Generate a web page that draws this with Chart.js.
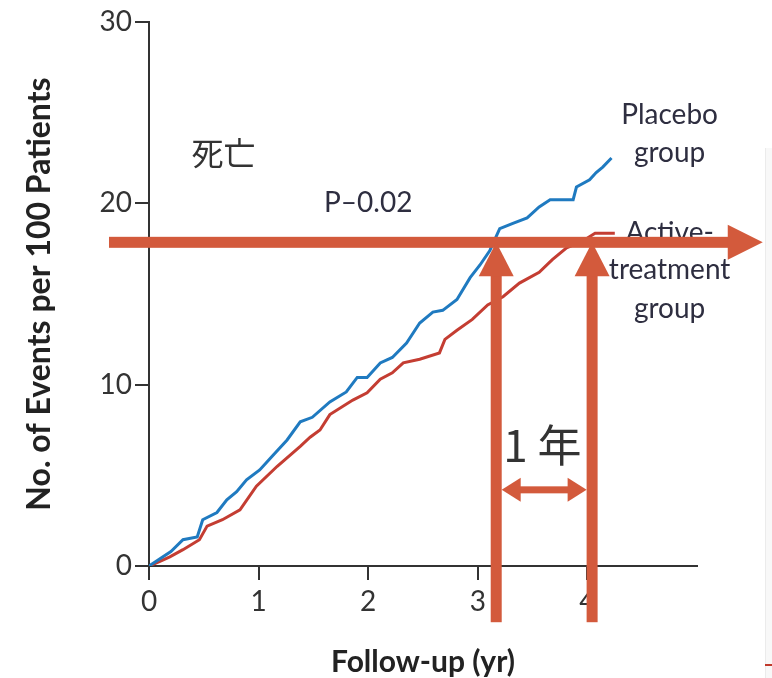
<!DOCTYPE html>
<html>
<head>
<meta charset="utf-8">
<title>Follow-up events</title>
<script src="https://cdn.jsdelivr.net/npm/chart.js"></script>
<style>
    html, body { margin: 0; padding: 0; background: #ffffff; }
    #eventsChart { display: block; }
</style>
</head>
<body>
<canvas id="eventsChart" width="772" height="678"></canvas>
<script>
(function () {
    "use strict";

    // -----------------------------------------------------------
    //  Data
    // -----------------------------------------------------------
    var placeboYears  = [0, 0.1, 0.2, 0.31, 0.44, 0.49, 0.62, 0.71, 0.8, 0.89, 1.01, 1.13, 1.26, 1.38, 1.49, 1.65, 1.8, 1.9, 1.99, 2.11, 2.22, 2.35, 2.47, 2.59, 2.68, 2.81, 2.93, 3.02, 3.11, 3.2, 3.32, 3.45, 3.56, 3.66, 3.87, 3.9, 4.02, 4.08, 4.14, 4.22];
    var placeboEvents = [0, 0.4, 0.8, 1.45, 1.6, 2.55, 2.95, 3.65, 4.1, 4.75, 5.3, 6.1, 6.95, 7.95, 8.2, 9.05, 9.6, 10.4, 10.4, 11.2, 11.5, 12.3, 13.4, 14.0, 14.1, 14.7, 15.9, 16.6, 17.4, 18.6, 18.9, 19.2, 19.8, 20.2, 20.2, 20.9, 21.3, 21.7, 22.0, 22.5];

    var activeYears  = [0, 0.1, 0.19, 0.31, 0.46, 0.53, 0.67, 0.83, 0.98, 1.17, 1.38, 1.47, 1.56, 1.65, 1.86, 1.99, 2.11, 2.22, 2.32, 2.47, 2.65, 2.7, 2.81, 2.95, 3.09, 3.23, 3.38, 3.56, 3.68, 3.81, 3.95, 4.07, 4.25];
    var activeEvents = [0, 0.25, 0.5, 0.9, 1.45, 2.2, 2.55, 3.1, 4.4, 5.5, 6.6, 7.1, 7.5, 8.35, 9.15, 9.55, 10.3, 10.65, 11.2, 11.4, 11.75, 12.5, 13.0, 13.6, 14.4, 14.85, 15.6, 16.2, 16.9, 17.55, 17.9, 18.35, 18.35];

    var xTicks = [0, 1, 2, 3, 4];
    var yTicks = [0, 10, 20, 30];

    var LATIN = 'Lato, "Open Sans", sans-serif';
    var CJK = '"Noto Sans CJK JP", "Noto Sans CJK SC", sans-serif';
    var ARROW = "#d35a3c";
    var INK = "#333333";

    // -----------------------------------------------------------
    //  Overlay: labels and the hand-drawn arrows
    // -----------------------------------------------------------
    var labels = [
        { text: "死亡", x: 0.68, y: 22.8, font: "32px " + CJK, color: INK, base: "middle" },
        { text: "P–0.02", x: 2.0, y: 19.5, font: "28px " + LATIN, color: "#2e2e40", base: "alphabetic" },
        { text: "Placebo", x: 4.75, y: 24.4, font: "28px " + LATIN, color: "#2e2e40", base: "alphabetic" },
        { text: "group", x: 4.75, y: 22.3, font: "28px " + LATIN, color: "#2e2e40", base: "alphabetic" },
        { text: "Active-", x: 4.75, y: 17.87, font: "28px " + LATIN, color: "#2e2e40", base: "alphabetic" },
        { text: "treatment", x: 4.75, y: 15.8, font: "28px " + LATIN, color: "#2e2e40", base: "alphabetic" },
        { text: "group", x: 4.75, y: 13.7, font: "28px " + LATIN, color: "#2e2e40", base: "alphabetic" },
        { text: "1 年", x: 3.59, y: 6.64, font: "44px " + CJK, color: INK, base: "middle" }
    ];

    var ARROW_LEVEL = 17.85;

    function drawArrow(ctx, x1, y1, x2, y2, width, headLen, headWidth, twoHeads) {
        var ang = Math.atan2(y2 - y1, x2 - x1);
        var len = Math.sqrt((x2 - x1) * (x2 - x1) + (y2 - y1) * (y2 - y1));
        ctx.save();
        ctx.translate(x1, y1);
        ctx.rotate(ang);
        ctx.fillStyle = ARROW;
        var start = twoHeads ? headLen - 1 : 0;
        ctx.fillRect(start, -width / 2, len - headLen + 1 - start, width);
        ctx.beginPath();
        ctx.moveTo(len, 0);
        ctx.lineTo(len - headLen, -headWidth / 2);
        ctx.lineTo(len - headLen, headWidth / 2);
        ctx.closePath();
        ctx.fill();
        if (twoHeads) {
            ctx.beginPath();
            ctx.moveTo(0, 0);
            ctx.lineTo(headLen, -headWidth / 2);
            ctx.lineTo(headLen, headWidth / 2);
            ctx.closePath();
            ctx.fill();
        }
        ctx.restore();
    }

    var overlayPlugin = {
        id: "overlay",
        beforeDraw: function (chart) {
            // faint edge of the neighbouring slide on the right
            var ctx = chart.ctx;
            ctx.save();
            ctx.fillStyle = "#f8f8f8";
            ctx.fillRect(765, 148, 7, 530);
            ctx.fillStyle = "#ebebeb";
            ctx.fillRect(765, 148, 1, 530);
            ctx.fillStyle = "#c0392b";
            ctx.fillRect(765, 664, 7, 2);
            ctx.restore();
        },
        afterDraw: function (chart) {
            var ctx = chart.ctx;
            var xs = chart.scales.x;
            var ys = chart.scales.y;

            ctx.save();
            labels.forEach(function (l) {
                ctx.font = l.font;
                ctx.fillStyle = l.color;
                ctx.textAlign = "center";
                ctx.textBaseline = l.base;
                ctx.fillText(l.text, xs.getPixelForValue(l.x), ys.getPixelForValue(l.y));
            });
            ctx.restore();

            var level = ys.getPixelForValue(ARROW_LEVEL);
            drawArrow(ctx, xs.getPixelForValue(-0.365), level, xs.getPixelForValue(5.6), level, 11, 35, 35, false);

            var bottom = ys.getPixelForValue(-3.1);
            drawArrow(ctx, xs.getPixelForValue(3.168), bottom, xs.getPixelForValue(3.168), level, 11, 34, 35, false);
            drawArrow(ctx, xs.getPixelForValue(4.043), bottom, xs.getPixelForValue(4.043), level, 11, 34, 35, false);

            var span = ys.getPixelForValue(4.2);
            drawArrow(ctx, xs.getPixelForValue(3.218), span, xs.getPixelForValue(3.993), span, 7, 19, 24, true);
        }
    };

    function toPoints(xsArr, ysArr) {
        return xsArr.map(function (x, i) { return { x: x, y: ysArr[i] }; });
    }

    var canvas = document.getElementById("eventsChart");

    new Chart(canvas, {
        type: "line",
        data: {
            datasets: [{
                label: "Placebo group",
                data: toPoints(placeboYears, placeboEvents),
                borderColor: "#1f7ac0",
                borderWidth: 3,
                pointRadius: 0,
                tension: 0,
                fill: false
            }, {
                label: "Active-treatment group",
                data: toPoints(activeYears, activeEvents),
                borderColor: "#c43d32",
                borderWidth: 3,
                pointRadius: 0,
                tension: 0,
                fill: false
            }]
        },
        options: {
            responsive: false,
            animation: false,
            layout: { padding: { top: 22, right: 75, bottom: 0, left: 0 } },
            plugins: {
                legend: { display: false },
                tooltip: { enabled: false }
            },
            scales: {
                x: {
                    type: "linear",
                    min: 0,
                    max: 5,
                    afterFit: function (scale) { scale.height = 112; },
                    afterBuildTicks: function (scale) {
                        scale.ticks = xTicks.map(function (v) { return { value: v }; });
                    },
                    grid: { display: true, drawOnChartArea: false, tickLength: 14, color: INK, lineWidth: 2 },
                    border: { display: true, color: INK, width: 2 },
                    ticks: { color: INK, font: { family: LATIN, size: 28 }, padding: 5, maxRotation: 0 },
                    title: {
                        display: true,
                        text: "Follow-up (yr)",
                        color: "#222222",
                        font: { family: LATIN, size: 30, weight: "bold", lineHeight: 1.05 },
                        padding: { top: 0, bottom: 0 }
                    }
                },
                y: {
                    min: 0,
                    max: 30,
                    afterFit: function (scale) { scale.width = 149; },
                    afterBuildTicks: function (scale) {
                        scale.ticks = yTicks.map(function (v) { return { value: v }; });
                    },
                    grid: { display: true, drawOnChartArea: false, tickLength: 14, color: INK, lineWidth: 2 },
                    border: { display: true, color: INK, width: 2 },
                    ticks: { color: INK, font: { family: LATIN, size: 28 }, padding: 3 },
                    title: {
                        display: true,
                        text: "No. of Events per 100 Patients",
                        color: "#222222",
                        font: { family: LATIN, size: 32, weight: "bold", lineHeight: 1.1 },
                        padding: { top: 22, bottom: 0 }
                    }
                }
            }
        },
        plugins: [overlayPlugin]
    });
})();
</script>
</body>
</html>
